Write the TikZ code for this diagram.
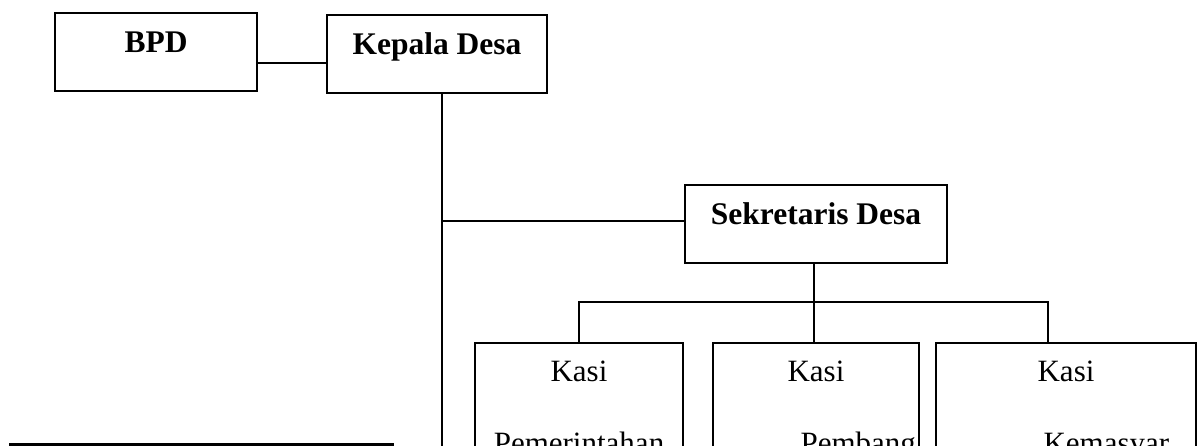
\documentclass[tikz,border=0pt]{standalone}
\usepackage{fontspec}
\setmainfont{Liberation Serif}
\tikzset{
  unit/.style={draw, line width=1.5pt, inner sep=0pt, text height=0pt, text depth=0pt, minimum height=78pt, font=\bfseries\fontsize{31.5}{38}\selectfont},
  kasibox/.style={draw, line width=1.5pt, anchor=north, minimum height=160pt},
  kasitext/.style={font=\fontsize{31}{37}\selectfont},
  link/.style={line width=1.5pt}
}
\begin{document}
\begin{tikzpicture}[x=1pt, y=-1pt]
\useasboundingbox (0,0) rectangle (1198,445);
\clip (0,0) rectangle (1198,445);

% top boxes
\node[unit, minimum width=202pt] (bpd) at (156,52) {BPD};
\node[unit, minimum width=220pt] (kepala) at (437,54) {Kepala Desa};
\node[unit, minimum width=262pt] (sekretaris) at (816,224) {Sekretaris Desa};

% kasi boxes
\node[kasibox, minimum width=208pt] (kasi1) at (579,342) {};
\node[kasibox, minimum width=206pt] (kasi2) at (816,342) {};
\node[kasibox, minimum width=260pt] (kasi3) at (1066,342) {};

\node[kasitext, anchor=base] (kasione) at ([yshift=-39pt]kasi1.north) {Kasi};
\node[kasitext, anchor=base] (kasitwo) at ([yshift=-39pt]kasi2.north) {Kasi};
\node[kasitext, anchor=base] (kasithree) at ([yshift=-39pt]kasi3.north) {Kasi};
\node[kasitext, anchor=base] (pemerintahan) at ([yshift=-111.5pt]kasi1.north) {Pemerintahan};
\node[kasitext, anchor=base west] (pembang) at ([xshift=-19pt,yshift=-111.5pt]kasi2.north) {Pembang};
\node[kasitext, anchor=base west] (kemasyar) at ([xshift=-26pt,yshift=-111.5pt]kasi3.north) {Kemasyar};

% connectors
\coordinate (spine) at (442,460);
\coordinate (branch) at (442,221);
\coordinate (bus) at (814,302);

\draw[link] ([xshift=-2pt,yshift=-11pt]bpd.east) -- ([yshift=-9pt]kepala.west);
\draw[link] ([xshift=5pt]kepala.south) -- (spine);
\draw[link] (branch) -- (branch -| sekretaris.west);
\draw[link] ([xshift=-2pt]sekretaris.south) -- (bus);
\draw[link] (kasi1.north) |- (bus) -| ([xshift=-18pt]kasi3.north);
\draw[link] (bus) -- (bus |- kasi2.north);

% thick rule at the bottom
\draw[line width=3pt] (9,444) -- (394,444);

\end{tikzpicture}
\end{document}
